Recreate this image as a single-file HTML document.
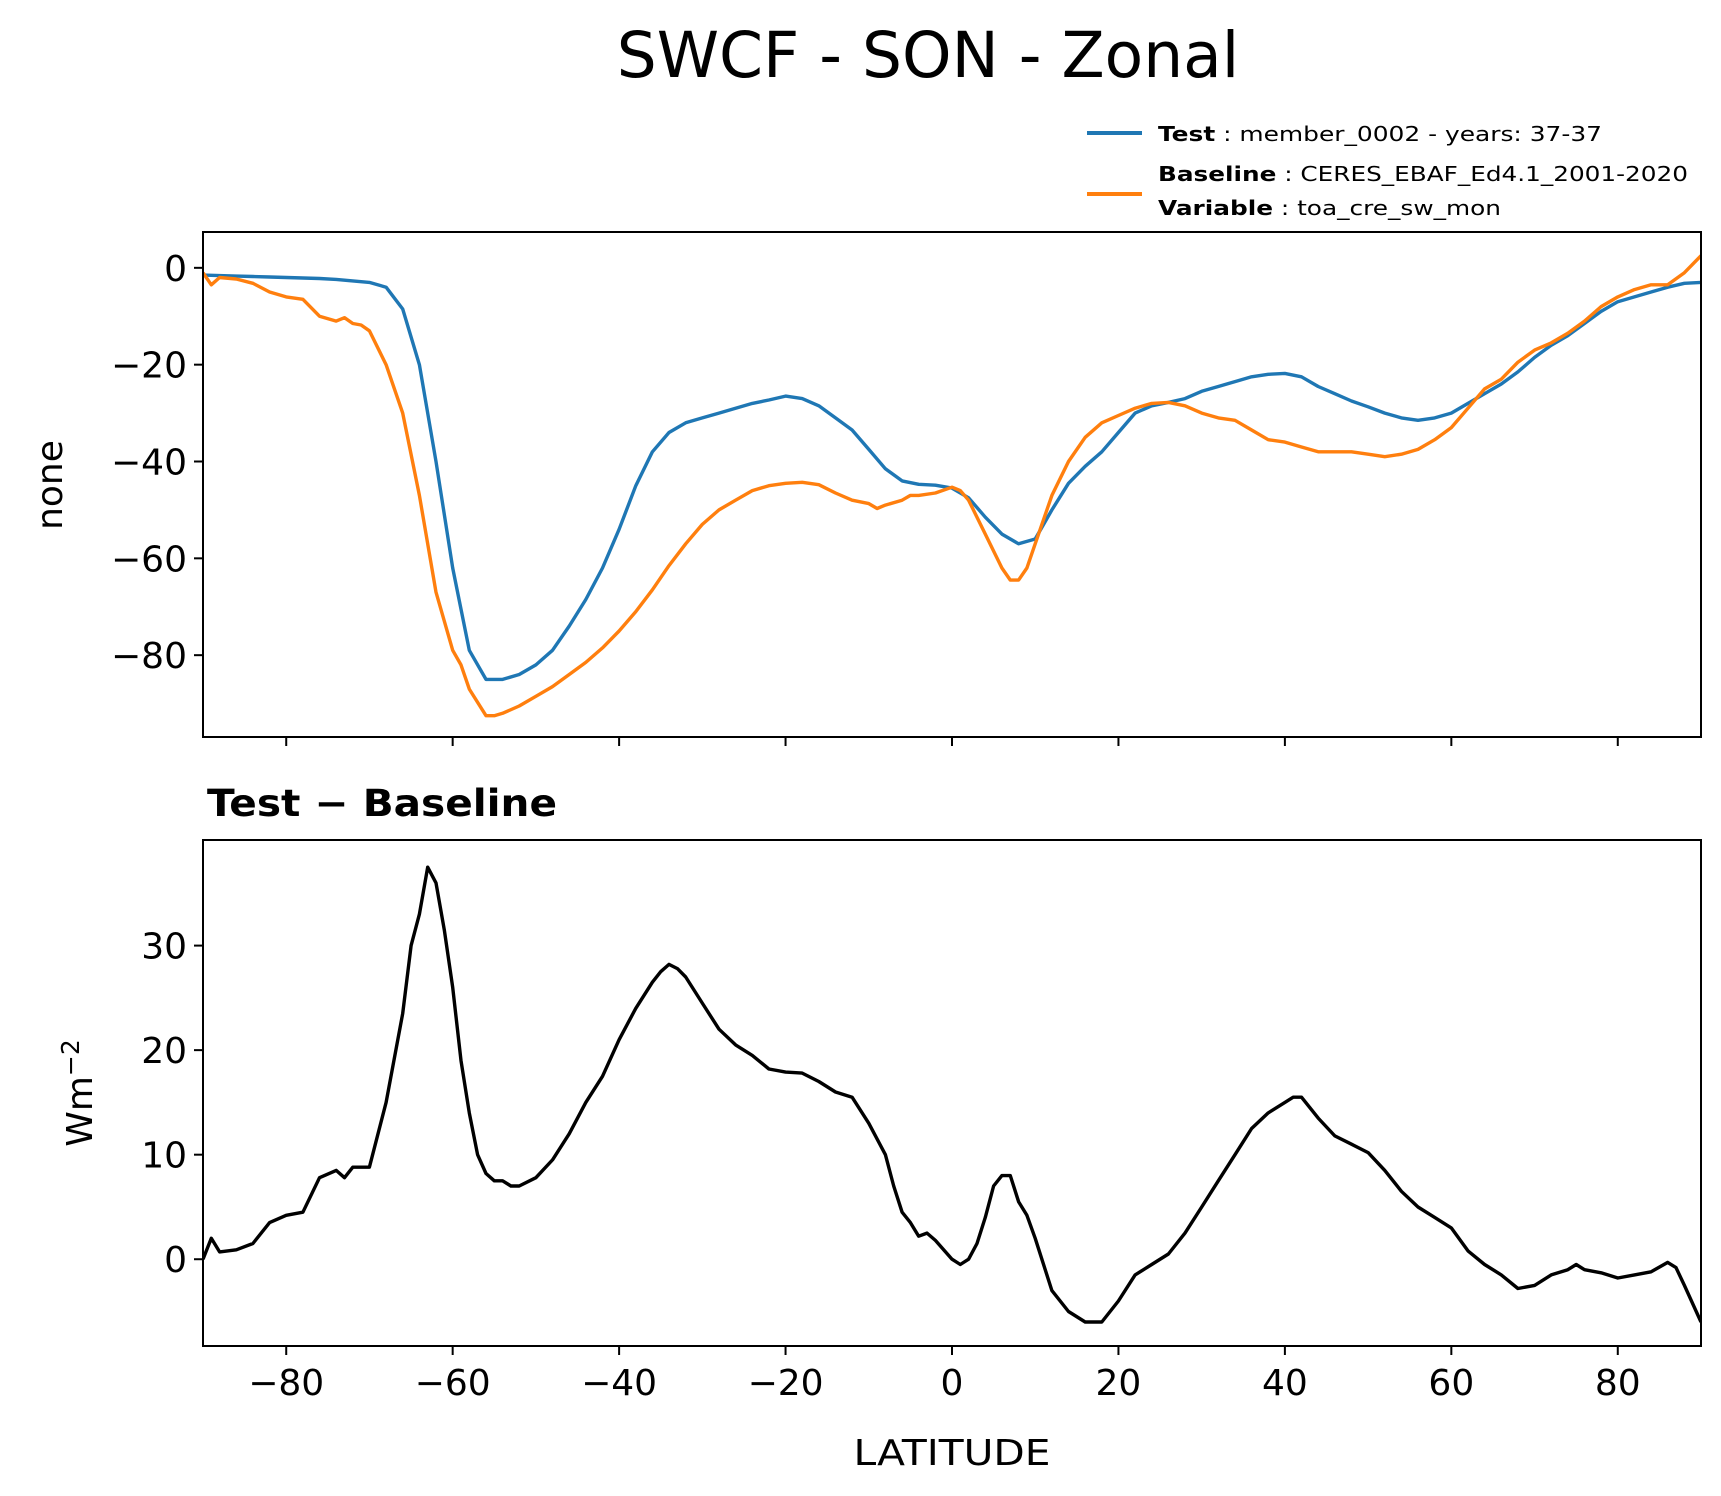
<!DOCTYPE html>
<html><head><meta charset="utf-8"><style>
html,body{margin:0;padding:0;background:#fff}
svg{display:block;font-family:"DejaVu Sans","Liberation Sans",sans-serif}
</style></head><body>
<svg id="chart" width="1721" height="1496" viewBox="0 0 1721 1496">
<text x="928" y="77" font-size="63" text-anchor="middle">SWCF - SON - Zonal</text>
<g>
<line x1="1087" y1="133" x2="1142" y2="133" stroke="#1f77b4" stroke-width="4"/>
<text x="1158" y="141" font-size="20" textLength="444" lengthAdjust="spacingAndGlyphs"><tspan font-weight="bold">Test</tspan> : member_0002 - years: 37-37</text>
<line x1="1087" y1="194" x2="1142" y2="194" stroke="#ff7f0e" stroke-width="4"/>
<text x="1158" y="181" font-size="20" textLength="530" lengthAdjust="spacingAndGlyphs"><tspan font-weight="bold">Baseline</tspan> : CERES_EBAF_Ed4.1_2001-2020</text>
<text x="1158" y="215" font-size="20" textLength="343" lengthAdjust="spacingAndGlyphs"><tspan font-weight="bold">Variable</tspan> : toa_cre_sw_mon</text>
</g>
<text x="207" y="816" font-size="37" font-weight="bold" textLength="350" lengthAdjust="spacingAndGlyphs">Test − Baseline</text>
<text transform="translate(62,485) rotate(-90)" font-size="36" text-anchor="middle">none</text>
<text transform="translate(92,1093) rotate(-90)" font-size="36" text-anchor="middle">Wm<tspan dy="-13" font-size="25">−2</tspan></text>
<text x="952" y="1465" font-size="36" text-anchor="middle" textLength="197" lengthAdjust="spacingAndGlyphs">LATITUDE</text>
<g id="top"></g><g id="bot"></g>
</svg>
<script>
const lat1=[-90,-88,-86,-84,-82,-80,-78,-76,-74,-72,-70,-68,-66,-64,-62,-60,-58,-56,-54,-52,-50,-48,-46,-44,-42,-40,-38,-36,-34,-32,-30,-28,-26,-24,-22,-20,-18,-16,-14,-12,-10,-8,-6,-4,-2,0,2,4,6,8,10,12,14,16,18,20,22,24,26,28,30,32,34,36,38,40,42,44,46,48,50,52,54,56,58,60,62,64,66,68,70,72,74,76,78,80,82,84,86,88,90];
const testVals=[-1.5,-1.6,-1.7,-1.8,-1.9,-2,-2.1,-2.2,-2.4,-2.7,-3,-4,-8.5,-20,-40,-62,-79,-85,-85,-84,-82,-79,-74,-68.5,-62,-54,-45,-38,-34,-32,-31,-30,-29,-28,-27.3,-26.5,-27,-28.5,-31,-33.5,-37.5,-41.5,-44,-44.7,-44.9,-45.5,-47.5,-51.5,-55,-57,-56,-50,-44.5,-41,-38,-34,-30,-28.5,-27.8,-27,-25.5,-24.5,-23.5,-22.5,-22,-21.8,-22.5,-24.5,-26,-27.5,-28.7,-30,-31,-31.5,-31,-30,-28,-26,-24,-21.5,-18.5,-16,-14,-11.5,-9,-7,-6,-5,-4,-3.2,-3];
const latB=[-90,-89,-88,-86,-84,-82,-80,-78,-76,-74,-73,-72,-71,-70,-68,-66,-64,-62,-60,-59,-58,-56,-55,-54,-52,-50,-48,-46,-44,-42,-40,-38,-36,-34,-32,-30,-28,-26,-24,-22,-20,-18,-16,-14,-12,-10,-9,-8,-6,-5,-4,-2,0,1,2,4,6,7,8,9,10,12,14,16,18,20,22,24,26,28,30,32,34,36,38,40,42,44,46,48,50,52,54,56,58,60,62,64,66,68,70,72,74,76,78,80,82,84,86,88,90];
const baseVals=[-1,-3.5,-2,-2.3,-3.2,-5,-6,-6.5,-10,-11,-10.3,-11.5,-11.8,-13,-20,-30,-47,-67,-79,-82,-87,-92.5,-92.5,-92,-90.5,-88.5,-86.5,-84,-81.5,-78.5,-75,-71,-66.5,-61.5,-57,-53,-50,-48,-46,-45,-44.5,-44.3,-44.8,-46.5,-48,-48.7,-49.7,-49,-48,-47,-47,-46.5,-45.3,-46,-48,-55,-62,-64.5,-64.5,-62,-57,-47,-40,-35,-32,-30.5,-29,-28,-27.8,-28.5,-30,-31,-31.5,-33.5,-35.5,-36,-37,-38,-38,-38,-38.5,-39,-38.5,-37.5,-35.5,-33,-29,-25,-23,-19.5,-17,-15.5,-13.5,-11,-8,-6,-4.5,-3.5,-3.5,-1,2.5];
const latD=[-90,-89,-88,-86,-84,-82,-80,-78,-76,-74,-73,-72,-70,-68,-66,-65,-64,-63,-62,-61,-60,-59,-58,-57,-56,-55,-54,-53,-52,-50,-48,-46,-44,-42,-40,-38,-36,-35,-34,-33,-32,-30,-28,-26,-24,-22,-20,-18,-16,-14,-12,-10,-8,-7,-6,-5,-4,-3,-2,0,1,2,3,4,5,6,7,8,9,10,12,14,16,18,20,22,24,26,28,30,32,34,36,38,40,41,42,44,46,48,50,52,54,56,58,60,62,64,66,68,70,72,74,75,76,78,80,82,84,86,87,88,90];
const diffVals=[0,2,0.7,0.9,1.5,3.5,4.2,4.5,7.8,8.5,7.8,8.8,8.8,15,23.5,30,33,37.5,36,31.5,26,19,14,10,8.2,7.5,7.5,7,7,7.8,9.5,12,15,17.5,21,24,26.5,27.5,28.2,27.8,27,24.5,22,20.5,19.5,18.2,17.9,17.8,17,16,15.5,13,10,7,4.5,3.5,2.2,2.5,1.8,0,-0.5,0,1.5,4,7,8,8,5.5,4.2,2,-3,-5,-6,-6,-4,-1.5,-0.5,0.5,2.5,5,7.5,10,12.5,14,15,15.5,15.5,13.5,11.8,11,10.2,8.5,6.5,5,4,3,0.8,-0.5,-1.5,-2.8,-2.5,-1.5,-1,-0.5,-1,-1.3,-1.8,-1.5,-1.2,-0.3,-0.8,-2.5,-6];
const xTicks=[-80,-60,-40,-20,0,20,40,60,80];
const topYTicks=[0,-20,-40,-60,-80];
const botYTicks=[0,10,20,30];

const NS="http://www.w3.org/2000/svg";
const L=203,R=1701;
const xs=v=>L+(v+90)/180*(R-L);
const topT=232,topB=737,topMax=7.4,topMin=-96.9;
const ysT=v=>topT+(topMax-v)/(topMax-topMin)*(topB-topT);
const botT=840,botB=1346,botMax=40.1,botMin=-8.3;
const ysB=v=>botT+(botMax-v)/(botMax-botMin)*(botB-botT);
function mk(tag,attrs,parent){const e=document.createElementNS(NS,tag);for(const k in attrs)e.setAttribute(k,attrs[k]);parent.appendChild(e);return e;}
function panel(g,T,B,ys,yt,showX){
  const clip=mk('clipPath',{id:'c'+T},g);mk('rect',{x:L,y:T,width:R-L,height:B-T},clip);
  yt.forEach(t=>{const y=ys(t);
    const tk=mk('line',{x1:L-9,x2:L,y1:y,y2:y,stroke:'#000','stroke-width':2},g);
    
    
    const tx=mk('text',{x:L-16,y:y+13,'font-size':36,'text-anchor':'end'},g);
    tx.textContent=t<0?'−'+(-t):String(t);
    
    });
  xTicks.forEach(t=>{const x=xs(t);
    const tk=mk('line',{x1:x,x2:x,y1:B,y2:B+9,stroke:'#000','stroke-width':2},g);
    
    
    if(showX){const tx=mk('text',{x:x,y:B+49,'font-size':36,'text-anchor':'middle'},g);
      tx.textContent=t<0?'−'+(-t):String(t);
      
      }});
  return 'url(#c'+T+')';
}
function series(g,lats,vals,ys,color,name,cp){
  const d=lats.map((a,i)=>(i?'L':'M')+xs(a).toFixed(1)+','+ys(vals[i]).toFixed(1)).join('');
  const p=mk('path',{d:d,fill:'none',stroke:color,'stroke-width':3.4,'stroke-linejoin':'round','clip-path':cp},g);
  
  
}
const gt=document.getElementById('top');


const cp1=panel(gt,topT,topB,ysT,topYTicks,false);
series(gt,lat1,testVals,ysT,'#1f77b4','test-line',cp1);
series(gt,latB,baseVals,ysT,'#ff7f0e','baseline-line',cp1);
const f1=mk('rect',{x:L,y:topT,width:R-L,height:topB-topT,fill:'none',stroke:'#000','stroke-width':2},gt);


const gb=document.getElementById('bot');


const cp2=panel(gb,botT,botB,ysB,botYTicks,true);
series(gb,latD,diffVals,ysB,'#000','diff-line',cp2);
const f2=mk('rect',{x:L,y:botT,width:R-L,height:botB-botT,fill:'none',stroke:'#000','stroke-width':2},gb);


</script>
</body></html>
